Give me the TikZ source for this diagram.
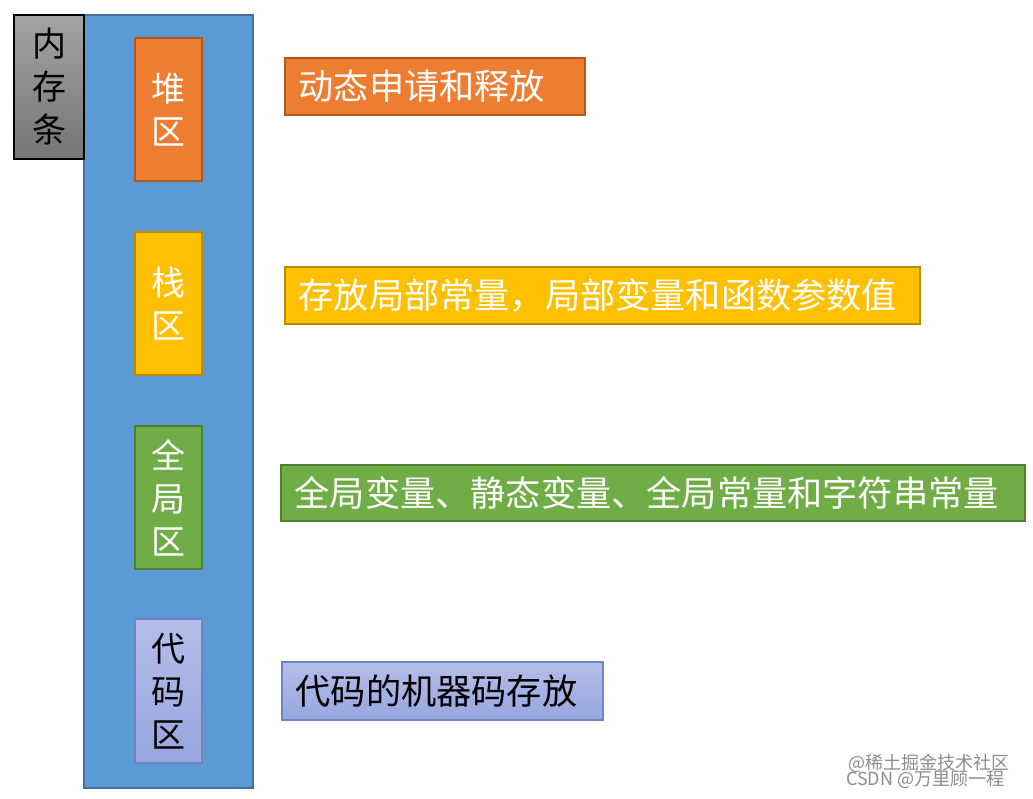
\documentclass[tikz,border=0pt]{standalone}
\usepackage{fontspec}
\newfontfamily\cjk{Noto Sans CJK SC}
\usepackage{tikz}
\usetikzlibrary{positioning}
\usepackage{xcolor}
\definecolor{memblue}{HTML}{5B9BD5}
\definecolor{memblueline}{HTML}{41719C}
\definecolor{heapfill}{HTML}{ED7D31}
\definecolor{heapline}{HTML}{AE5A21}
\definecolor{stackfill}{HTML}{FFC000}
\definecolor{stackline}{HTML}{BC8C00}
\definecolor{globalfill}{HTML}{70AD47}
\definecolor{globalline}{HTML}{507E32}
\definecolor{codetop}{HTML}{B5BEEA}
\definecolor{codebottom}{HTML}{97A6DE}
\definecolor{codeline}{HTML}{6F84C4}

\begin{document}
\begin{tikzpicture}[
  x=1pt, y=-1pt,
  area/.style={draw, line width=1.5pt, minimum width=67pt, minimum height=143pt,
               inner sep=0pt, align=center, text=white,
               font=\cjk\fontsize{34}{43}\selectfont},
  desc/.style={draw, line width=1.5pt, anchor=west, minimum height=57pt,
               inner xsep=14pt, inner ysep=0pt, align=left, text=white,
               font=\cjk\fontsize{35.2}{40}\selectfont},
  wmark/.style={text=black!45, font=\cjk\fontsize{18}{19}\selectfont, inner sep=0pt, anchor=west}
]
  \useasboundingbox (0,0) rectangle (1033,798);

  % Memory stick
  \node[draw=memblueline, fill=memblue, line width=2pt, minimum width=169pt,
        minimum height=773pt] (stick) at (168.5, 401.5) {};
  \node[draw=black, line width=1.2pt, top color=black!36, bottom color=black!54,
        minimum width=70pt, minimum height=144pt, inner sep=0pt, align=center,
        font=\cjk\fontsize{34}{43}\selectfont] (sticklabel) at (49, 87) {内\\存\\条};

  % Areas
  \node[area, fill=heapfill, draw=heapline] (heap) at (168.5, 109.5) {堆\\区};
  \node[area, fill=stackfill, draw=stackline] (stack) at (168.5, 303.5) {栈\\区};
  \node[area, fill=globalfill, draw=globalline] (global) at (168.5, 497.5) {全\\局\\区};
  \node[area, top color=codetop, bottom color=codebottom, draw=codeline,
        text=black, minimum height=144pt] (code) at (168.5, 691) {代\\码\\区};

  % Descriptions
  \node[desc, fill=heapfill, draw=heapline, text width=272pt] (heapdesc) at (284, 86.5) {动态申请和释放};
  \node[desc, fill=stackfill, draw=stackline, text width=607pt] (stackdesc) at (284, 295.5) {存放局部常量，局部变量和函数参数值};
  \node[desc, fill=globalfill, draw=globalline, text width=716pt, minimum height=56pt] (globaldesc) at (280, 493) {全局变量、静态变量、全局常量和字符串常量};
  \node[desc, top color=codetop, bottom color=codebottom, draw=codeline,
        text=black, text width=293pt, minimum height=58pt] (codedesc) at (281, 691) {代码的机器码存放};

  % Watermark
  \node[wmark] (mark1) at (848, 763) {@稀土掘金技术社区};
  \node[wmark] (mark2) at (846, 780) {CSDN @万里顾一程};
\end{tikzpicture}
\end{document}
